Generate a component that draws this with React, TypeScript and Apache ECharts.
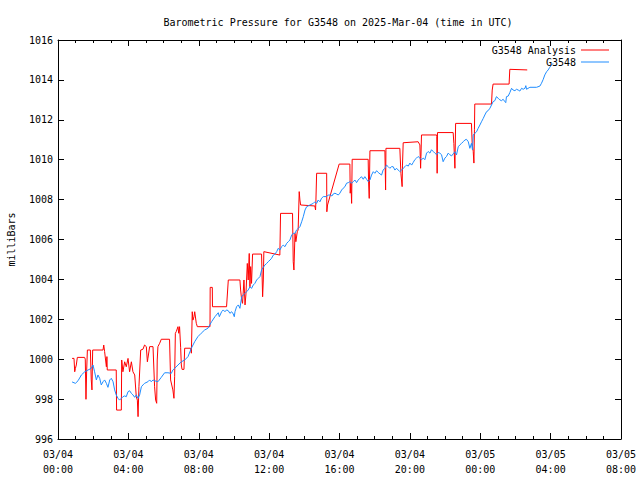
import React, { useEffect, useRef } from "react";
import * as echarts from "echarts";

const FONT = "DejaVu Sans Mono";
const TITLE = "Barometric Pressure for G3548 on 2025-Mar-04 (time in UTC)";
const Y_NAME = "milliBars";
const SERIES_NAMES = ["G3548 Analysis", "G3548"];
const X_TICK_LABELS = [
  "03/04\n00:00", "03/04\n04:00", "03/04\n08:00", "03/04\n12:00", "03/04\n16:00",
  "03/04\n20:00", "03/05\n00:00", "03/05\n04:00", "03/05\n08:00",
];

// Hours after 2025-03-04 00:00 UTC, pressure in mb — analysis series
const anaHours = [
  0.80, 0.91, 0.95, 0.99, 1.04, 1.10, 1.51, 1.55, 1.59, 1.63, 1.67, 1.84, 1.89, 1.93, 1.97, 2.56,
  2.60, 2.65, 2.75, 2.78, 2.80, 3.31, 3.33, 3.60, 3.62, 3.69, 3.79, 3.88, 3.98, 4.07, 4.17, 4.26,
  4.36, 4.45, 4.51, 4.55, 4.60, 4.70, 4.83, 4.92, 5.02, 5.08, 5.11, 5.21, 5.40, 5.49, 5.55, 5.61,
  5.64, 5.68, 5.78, 5.87, 6.34, 6.40, 6.53, 6.59, 6.63, 6.67, 6.72, 6.82, 6.86, 6.91, 6.97, 7.01,
  7.05, 7.16, 7.20, 7.54, 7.58, 7.63, 7.67, 7.73, 7.77, 7.80, 7.86, 7.92,
  8.64, 8.65, 8.77, 8.78, 9.58, 9.68, 10.34, 10.38, 10.44, 10.49, 10.57, 10.63, 10.68, 10.76, 10.81,
  10.87, 10.91, 10.95, 11.00, 11.06, 11.57, 11.63, 11.67, 11.70, 12.61, 12.65, 13.33, 13.37, 13.41,
  13.47, 13.52, 13.60, 13.65, 13.71, 13.75, 13.79,
  14.60, 14.64, 14.66, 14.70, 15.27, 15.28, 15.32, 15.98, 16.59, 16.61, 16.65, 16.69, 16.72, 17.63,
  17.65, 17.69, 17.73, 18.58, 18.60, 18.62, 18.64, 19.43, 19.49, 19.56, 19.58, 19.62, 20.47, 20.57,
  20.61, 20.63, 20.66, 21.52, 21.53, 21.55, 21.57, 22.46, 22.50, 22.56, 22.60, 23.50, 23.54, 23.60,
  23.64, 23.67, 23.69, 24.64, 24.68, 24.73, 25.64, 25.68, 26.67,
];
const anaMb = [
  1000.04, 1000.04, 999.37, 999.54, 999.71, 1000.09, 1000.09, 1000.0, 997.99, 999.46, 1000.46, 1000.46, 998.96, 998.46, 1000.46, 1000.46,
  1000.71, 1000.38, 999.62, 1000.13, 999.46, 999.46, 997.45, 997.45, 999.96, 999.37, 999.87, 999.62, 1000.04, 999.37, 999.87, 999.37,
  999.21, 998.12, 997.95, 997.12, 998.62, 1000.46, 1000.5, 1000.71, 1000.63, 999.87, 1000.04, 1000.63, 1000.63, 998.62, 997.95, 997.79,
  999.96, 1000.63, 1000.8, 1001.0, 1001.0, 998.96, 998.46, 998.04, 999.12, 1001.3, 1001.38, 1001.63, 1001.3, 1001.63, 1000.6, 999.71,
  999.49, 999.49, 1000.55, 1000.55, 1000.3, 1002.38, 1001.96, 1002.13, 1002.38, 1002.38, 1001.8, 1001.63,
  1001.63, 1003.6, 1003.6, 1002.63, 1002.63, 1003.97, 1003.97, 1003.47, 1002.97, 1002.8, 1003.97, 1002.72, 1003.22, 1004.8, 1003.97,
  1005.3, 1003.63, 1004.64, 1003.8, 1005.27, 1005.27, 1003.13, 1003.97, 1005.39, 1005.22, 1007.31, 1007.31, 1004.89, 1004.47,
  1006.31, 1005.89, 1006.39, 1006.48, 1008.4, 1007.98, 1007.73,
  1007.68, 1007.48, 1007.98, 1009.32, 1009.32, 1007.39, 1007.73, 1009.78, 1009.78, 1008.32, 1008.82, 1007.81, 1010.02, 1010.02,
  1008.99, 1008.06, 1010.45, 1010.45, 1009.48, 1008.48, 1010.57, 1010.57, 1009.32, 1008.65, 1009.73, 1010.85, 1010.9, 1010.74,
  1009.57, 1010.16, 1011.24, 1011.24, 1011.16, 1009.32, 1011.36, 1011.36, 1010.82, 1009.57, 1011.82, 1011.82, 1010.82, 1010.41,
  1009.83, 1011.5, 1012.79, 1012.79, 1013.49, 1013.79, 1013.79, 1014.53, 1014.5,
];

// Observed series
const obsHours = [
  0.80, 0.99, 1.14, 1.33, 1.52, 1.71, 1.89, 1.99, 2.08, 2.18, 2.27, 2.37, 2.46, 2.56, 2.65, 2.75,
  2.84, 2.94, 3.03, 3.13, 3.22, 3.31, 3.41, 3.50, 3.60, 3.69, 3.79, 3.88, 3.98, 4.07, 4.17, 4.26,
  4.36, 4.45, 4.55, 4.64, 4.74, 4.83, 4.92, 5.11, 5.21, 5.30, 5.40, 5.49, 5.68, 5.87, 6.06, 6.25,
  6.44, 6.53, 6.63, 6.82, 7.01, 7.20, 7.39, 7.58, 7.77, 7.95, 8.14, 8.33, 8.52,
  8.73, 8.92, 9.11, 9.17, 9.30, 9.39, 9.49, 9.58, 9.68, 9.77, 9.87, 9.96, 10.02, 10.06, 10.15, 10.25,
  10.34, 10.44, 10.53, 10.63, 10.72, 10.81, 10.91, 11.00, 11.10, 11.19, 11.29, 11.38, 11.48, 11.57,
  11.67, 11.76, 11.86, 11.95, 12.05, 12.14, 12.24, 12.33, 12.43, 12.52, 12.61, 12.71, 12.80, 12.90,
  13.00, 13.09, 13.18, 13.28, 13.37, 13.47, 13.56, 13.66, 13.75, 13.85, 13.94, 14.04, 14.13, 14.32,
  14.51, 14.60, 14.70, 14.79, 14.89, 14.98, 15.08, 15.27, 15.36,
  15.47, 15.57, 15.64, 15.74, 15.83, 15.93, 16.02, 16.12, 16.21, 16.31, 16.40, 16.50, 16.59, 16.69,
  16.78, 16.88, 16.97, 17.06, 17.16, 17.25, 17.35, 17.44, 17.54, 17.63, 17.73, 17.82, 17.92, 18.01,
  18.11, 18.20, 18.30, 18.39, 18.48, 18.58, 18.67, 18.77, 18.86, 18.96, 19.05, 19.15, 19.24, 19.34,
  19.43, 19.53, 19.62, 19.72, 19.81, 19.91, 20.00, 20.10, 20.19, 20.28, 20.38, 20.47, 20.57, 20.66,
  20.76, 20.85, 20.95, 21.04, 21.14, 21.23, 21.33, 21.42, 21.52, 21.61, 21.70, 21.80, 21.89, 21.99,
  22.08, 22.18, 22.27, 22.37, 22.46,
  22.56, 22.65, 22.75, 22.84, 22.94, 23.03, 23.13, 23.22, 23.32, 23.41, 23.50, 23.56, 23.60, 23.69,
  23.79, 23.88, 23.98, 24.07, 24.17, 24.26, 24.36, 24.45, 24.55, 24.64, 24.73, 24.83, 24.92, 25.02,
  25.11, 25.21, 25.30, 25.40, 25.45, 25.49, 25.59, 25.68, 25.78, 25.87, 25.97, 26.06, 26.16, 26.25,
  26.35, 26.44, 26.54, 26.59, 26.63, 26.82, 27.20, 27.39, 27.48, 27.58, 27.67, 27.77, 27.86, 27.95,
  28.05, 28.14,
];
const obsMb = [
  998.86, 998.79, 998.92, 999.21, 999.37, 999.46, 999.54, 999.71, 999.37, 998.96, 999.21, 999.04, 998.71, 998.87, 998.96, 998.79,
  998.59, 998.96, 999.04, 998.87, 998.46, 998.21, 998.04, 997.95, 998.04, 998.12, 998.16, 998.12, 998.37, 998.42, 998.29, 998.21,
  998.09, 998.21, 998.04, 998.21, 998.62, 998.71, 998.79, 998.87, 998.96, 998.87, 998.96, 998.92, 998.87, 999.09, 999.32, 999.32,
  999.29, 999.46, 999.54, 999.71, 999.87, 999.96, 1000.13, 1000.55, 1000.88, 1001.13, 1001.3, 1001.46, 1001.55,
  1001.88, 1002.13, 1002.33, 1002.13, 1002.38, 1002.47, 1002.38, 1002.47, 1002.43, 1002.3, 1002.38, 1002.27, 1002.13, 1002.38, 1002.63, 1002.72,
  1002.55, 1003.13, 1003.22, 1003.3, 1003.38, 1003.47, 1003.63, 1003.55, 1003.72, 1003.8, 1003.97, 1004.05, 1004.14, 1004.47,
  1004.61, 1004.72, 1004.8, 1004.89, 1004.97, 1005.06, 1005.22, 1005.27, 1005.39, 1005.56, 1005.47, 1005.64, 1005.72, 1005.64,
  1005.81, 1005.89, 1005.97, 1006.22, 1006.31, 1006.31, 1006.48, 1006.56, 1006.64, 1006.89, 1007.14, 1007.48, 1007.64, 1007.73,
  1007.81, 1007.89, 1007.81, 1007.98, 1007.89, 1008.07, 1008.15, 1008.15, 1008.23,
  1008.23, 1008.18, 1008.28, 1008.32, 1008.28, 1008.23, 1008.32, 1008.48, 1008.57, 1008.65, 1008.82, 1008.85, 1008.9, 1008.82,
  1008.9, 1008.98, 1008.85, 1008.98, 1009.07, 1009.15, 1009.02, 1009.15, 1009.02, 1008.9, 1008.98, 1009.23, 1009.4, 1009.32,
  1009.45, 1009.36, 1009.29, 1009.23, 1009.48, 1009.57, 1009.73, 1009.65, 1009.57, 1009.65, 1009.65, 1009.48, 1009.57, 1009.48,
  1009.4, 1009.48, 1009.57, 1009.65, 1009.73, 1009.68, 1009.83, 1009.73, 1009.86, 1010.0, 1010.08, 1010.16, 1010.08, 1010.0,
  1010.08, 1010.0, 1010.33, 1010.41, 1010.33, 1010.5, 1010.41, 1010.33, 1010.25, 1010.36, 1010.33, 1010.25, 1009.9, 1010.08,
  1010.16, 1010.33, 1010.25, 1010.19, 1010.29,
  1010.4, 1010.24, 1010.65, 1010.74, 1010.82, 1010.9, 1010.99, 1011.02, 1010.9, 1010.57, 1010.82, 1010.49, 1011.24, 1011.32,
  1011.4, 1011.57, 1011.74, 1011.9, 1012.07, 1012.24, 1012.41, 1012.46, 1012.58, 1012.74, 1012.91, 1012.96, 1013.16, 1013.08,
  1013.0, 1012.96, 1013.03, 1012.91, 1012.86, 1013.16, 1013.19, 1013.36, 1013.58, 1013.49, 1013.46, 1013.53, 1013.49, 1013.44,
  1013.58, 1013.53, 1013.58, 1013.71, 1013.53, 1013.63, 1013.63, 1013.69, 1013.83, 1014.03, 1014.25, 1014.41, 1014.5, 1014.63,
  1014.75, 1014.83,
];

const X_MIN = 0;
const X_MAX = 32;
const X_STEP = 4;
const Y_MIN = 996;
const Y_MAX = 1016;
const Y_STEP = 2;

const zip = (a: number[], b: number[]) => a.map((v, i) => [v, b[i]]);

export default function App() {
  const ref = useRef<HTMLDivElement>(null);
  useEffect(() => {
    if (!ref.current) return;
    const chart = echarts.init(ref.current, undefined, { renderer: "svg" });
    const axisLine = { show: true, onZero: false, lineStyle: { color: "#000", width: 1 } };
    const xCommon = {
      type: "value" as const,
      min: X_MIN,
      max: X_MAX,
      interval: X_STEP,
      axisLine,
      splitLine: { show: false },
      axisTick: { show: true, inside: true, length: 6, lineStyle: { color: "#000" } },
      minorTick: { show: true, splitNumber: 4, length: 3, lineStyle: { color: "#000" } },
    };
    const yCommon = {
      type: "value" as const,
      min: Y_MIN,
      max: Y_MAX,
      interval: Y_STEP,
      axisLine,
      splitLine: { show: false },
      axisTick: { show: true, inside: true, length: 6, lineStyle: { color: "#000" } },
    };
    chart.setOption({
      animation: false,
      backgroundColor: "#fff",
      textStyle: { fontFamily: FONT, fontSize: 10, color: "#000" },
      title: {
        text: TITLE,
        left: 333,
        top: 12,
        textAlign: "center",
        textStyle: { fontFamily: FONT, fontSize: 10, fontWeight: "normal", color: "#000" },
      },
      legend: {
        data: SERIES_NAMES.map((n) => ({ name: n, icon: "rect" })),
        orient: "vertical",
        align: "right",
        right: 26,
        top: 39,
        itemWidth: 28,
        itemHeight: 1,
        itemGap: 0,
        textStyle: { fontFamily: FONT, fontSize: 10, color: "#000", lineHeight: 12 },
      },
      grid: {
        left: 58,
        right: 19,
        top: 40,
        bottom: 41,
        containLabel: false,
        outerBoundsMode: "none",
      },
      xAxis: [
        {
          ...xCommon,
          position: "bottom",
          axisLabel: {
            show: true,
            margin: 8,
            lineHeight: 15,
            fontFamily: FONT,
            fontSize: 10,
            color: "#000",
            formatter: (v: number) => X_TICK_LABELS[Math.round(v / X_STEP)] ?? "",
          },
        },
        { ...xCommon, position: "top", axisLabel: { show: false } },
      ],
      yAxis: [
        {
          ...yCommon,
          position: "left",
          name: Y_NAME,
          nameLocation: "middle",
          nameRotate: 90,
          nameGap: 42,
          nameTextStyle: { fontFamily: FONT, fontSize: 10, color: "#000" },
          axisLabel: {
            show: true,
            margin: 5,
            fontFamily: FONT,
            fontSize: 10,
            color: "#000",
            formatter: (v: number) => String(v),
          },
        },
        { ...yCommon, position: "right", axisLabel: { show: false } },
      ],
      series: [
        {
          name: SERIES_NAMES[0],
          type: "line",
          data: zip(anaHours, anaMb),
          showSymbol: false,
          symbol: "none",
          color: "#ff0000",
          lineStyle: { color: "#ff0000", width: 1 },
          xAxisIndex: 0,
          yAxisIndex: 0,
          z: 2,
        },
        {
          name: SERIES_NAMES[1],
          type: "line",
          data: zip(obsHours, obsMb),
          showSymbol: false,
          symbol: "none",
          color: "#1e8cff",
          lineStyle: { color: "#1e8cff", width: 1 },
          xAxisIndex: 0,
          yAxisIndex: 0,
          z: 3,
        },
      ],
    });
    return () => chart.dispose();
  }, []);
  return (
    <div
      ref={ref}
      style={{ position: "fixed", left: 0, top: 0, width: 640, height: 480, background: "#fff" }}
    />
  );
}
